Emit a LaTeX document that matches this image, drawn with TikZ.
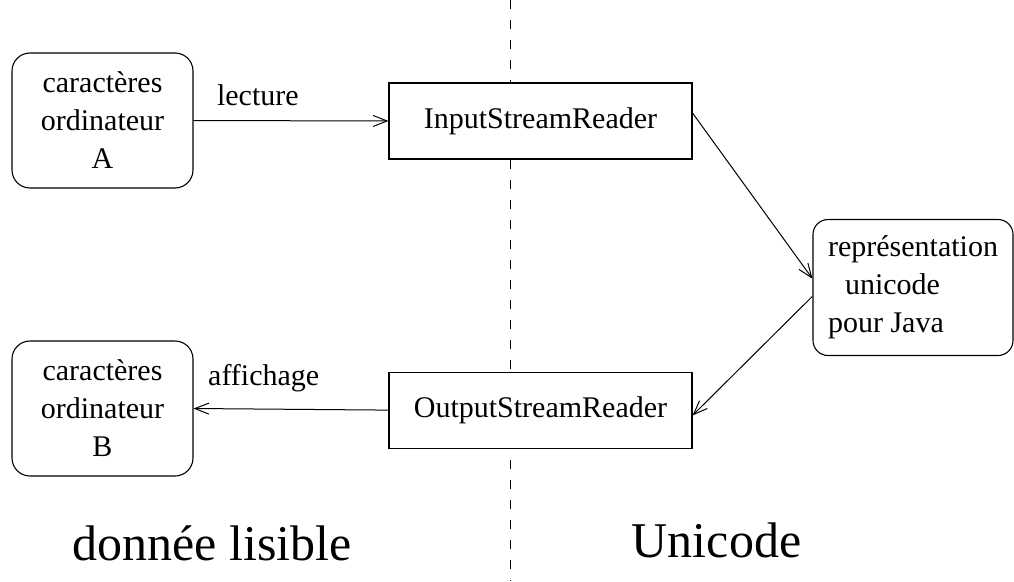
\documentclass[tikz,border=0pt]{standalone}
\usepackage{fontspec}
\setmainfont{Liberation Serif}
\usetikzlibrary{arrows.meta,positioning}

\begin{document}
\begin{tikzpicture}[x=1pt,y=-1pt,>={Straight Barb[length=14pt,width=11pt]},font=\fontsize{30}{38}\selectfont]
\tikzstyle{C}=[draw,line width=1.1pt,fill=white,rounded corners=18pt,minimum width=181pt,minimum height=135pt,align=center]
\tikzstyle{F}=[draw,line width=1.1pt,fill=white,minimum width=303pt,minimum height=76pt]
\tikzstyle{G}=[font=\fontsize{50}{60}\selectfont,anchor=base]
\useasboundingbox (0,0) rectangle (1014,581);
% frontiere
\coordinate (h) at (510,0); \coordinate (b) at (510,581);
\draw[line width=1pt,dash pattern=on 9pt off 11pt] (h) -- (b);
\node[C] (ca) at (102.5,120.5) {caractères\\ordinateur\\A};
\node[C] (cb) at (102.5,408.5) {caractères\\ordinateur\\B};
\node[F] (isr) at (540.5,121) {InputStreamReader};
\node[F,below=212pt of isr] (osr) {OutputStreamReader};
\node[C,rounded corners=15pt,minimum width=200pt,minimum height=136pt,align=left] (rep) at (913,287.5) {représentation\\\hspace*{17pt}unicode\\pour Java};
\draw[->,line width=1pt] (ca.east) -- node[pos=.33,anchor=base,yshift=15pt] {lecture} (isr.west);
\draw[->,line width=1pt] (isr.3) -- (rep.175);
\draw[->,line width=1pt] (rep.185) -- (osr.-2);
\draw[->,line width=1pt] (osr.west) -- node[pos=.64,anchor=base,yshift=24pt] {affichage} (cb.east);
\node[G] (dl) at (212,560) {donnée lisible};
\node[G] (uc) at (716.5,557) {Unicode};
\end{tikzpicture}
\end{document}
